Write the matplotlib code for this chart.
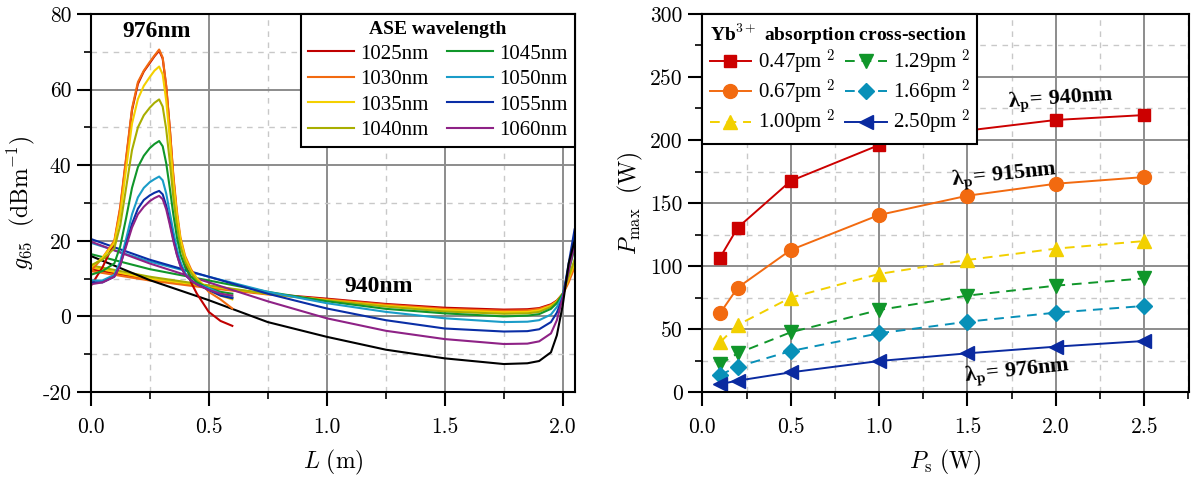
import matplotlib
matplotlib.use("Agg")
import matplotlib.pyplot as plt
from matplotlib.ticker import MultipleLocator, FuncFormatter

plt.rcParams['font.family'] = ['Liberation Serif', 'DejaVu Serif']
plt.rcParams['mathtext.fontset'] = 'cm'
plt.rcParams['axes.unicode_minus'] = False

# ---- left panel: gain along fibre ----
L976 = [0.0, 0.05, 0.10, 0.125, 0.15, 0.175, 0.20, 0.225, 0.25, 0.27, 0.29, 0.305,
        0.32, 0.335, 0.35, 0.365, 0.38, 0.40, 0.425, 0.45, 0.50, 0.55, 0.60]
g976 = {
    '1025nm': [8, 13, 19.5, 28.5, 41.5, 54.5, 61.5, 64.8, 67, 68.8, 70.3, 68.2,
               60.8, 49.8, 37, 27, 20, 14.5, 9, 6, 1.2, -1.2, -2.5],
    '1030nm': [12, 15.5, 20, 29, 42, 55, 62, 65, 67.3, 69, 70.6, 68.5,
               61, 50, 37.5, 28, 21, 16, 12.5, 10, 6.5, 4.5, 2.1],
    '1035nm': [13, 15.5, 19.5, 27, 39, 51, 57.5, 61, 63.3, 65, 66.1, 64,
               57, 47, 35.5, 27, 20.5, 15.5, 12, 10, 7, 5.5, 4.5],
    '1040nm': [13.5, 15, 18, 24, 34, 44, 50, 53.2, 55.2, 56.5, 57.4, 55.5,
               49.5, 41, 31.5, 24, 18.5, 14.5, 11.5, 9.5, 7, 6, 5],
    '1045nm': [11, 12, 14, 18.5, 26, 34, 39.5, 42.5, 44.5, 45.6, 46.4, 45,
               40.5, 34, 27, 21, 16.5, 13, 10.5, 9, 7.5, 6.5, 6],
    '1050nm': [9.5, 9.5, 11, 14.5, 20.5, 27, 31.5, 34, 35.5, 36.3, 37, 36,
               32.5, 27.5, 22.5, 18, 14.5, 11.5, 9.5, 8.5, 7.5, 6, 5],
    '1055nm': [9, 9, 10.5, 13.5, 19, 24.5, 28.5, 30.8, 32, 32.7, 33.2, 32.3,
               29.3, 25, 20.5, 16.5, 13.5, 11, 9.5, 8.5, 7, 5.5, 4.8],
    '1060nm': [8.5, 9, 10.5, 13.5, 18.5, 23.5, 27, 29, 30.5, 31.3, 31.9, 31,
               28.3, 24.3, 20, 16.3, 13.3, 11, 9.5, 8.5, 7, 6, 5.5],
}
L940 = [0.0, 0.25, 0.5, 0.75, 1.0, 1.25, 1.5, 1.75, 1.85, 1.9, 1.95, 1.975, 2.0, 2.025, 2.05]
g940 = {
    '1025nm': [12.5, 9.8, 7.7, 6.0, 4.7, 3.3, 2.3, 1.8, 1.9, 2.2, 3.2, 4.2, 6.0, 9.5, 13.5],
    '1030nm': [12, 9.5, 7.5, 5.8, 4.5, 3.1, 2.0, 1.5, 1.6, 2.0, 3.0, 4.0, 5.8, 9.0, 13],
    '1035nm': [13, 10, 8, 6.0, 4.3, 2.8, 1.7, 1.1, 1.2, 1.6, 2.8, 4.0, 6.0, 10, 14],
    '1040nm': [13.5, 10.5, 8.2, 6.0, 4.2, 2.6, 1.3, 0.7, 0.8, 1.2, 2.5, 3.8, 6.0, 10.5, 15],
    '1045nm': [16.5, 12.5, 9.5, 6.5, 4.0, 2.0, 0.8, 0.0, 0.2, 0.6, 2.0, 3.5, 6.0, 12, 18],
    '1050nm': [19.5, 14.5, 10.5, 6.5, 3.5, 1.2, -0.5, -1.5, -1.4, -1.0, 0.5, 2.5, 5.5, 13, 21],
    '1055nm': [20.5, 15, 10.5, 6.0, 2.1, -1.0, -3.2, -4.0, -3.9, -3.4, -1.5, 1.0, 5.0, 14, 23],
    '1060nm': [19.8, 14, 9.0, 4.0, -0.5, -3.8, -6.0, -7.3, -7.2, -6.6, -4.5, -1.0, 5.0, 12, 19],
    'black': [16, 9.6, 4.3, -1.5, -5.4, -8.8, -11.1, -12.6, -12.4, -11.8, -9.5, -5.0, 3.0, 14, 20],
}
ase_colors = {'1025nm': '#c00000', '1030nm': '#f26a10', '1035nm': '#f4d000', '1040nm': '#a8ae00',
              '1045nm': '#10962a', '1050nm': '#1a9cc8', '1055nm': '#0a2ea6', '1060nm': '#8e2286',
              'black': '#000000'}

# ---- right panel: max power vs seed ----
Ps = [0.1, 0.2, 0.5, 1.0, 1.5, 2.0, 2.5]
cross_labels = ['0.47pm$^{\\ 2}$', '0.67pm$^{\\ 2}$', '1.00pm$^{\\ 2}$',
                '1.29pm$^{\\ 2}$', '1.66pm$^{\\ 2}$', '2.50pm$^{\\ 2}$']
P047 = [106.6, 130.4, 167.5, 196, 207.5, 215.9, 219.8]
P067 = [62.4, 82.8, 112.7, 140.5, 155.8, 165.3, 170.6]
P100 = [39.4, 53.2, 74.9, 93.7, 104.8, 113.8, 119.8]
P129 = [22, 30.7, 47.4, 65.1, 76.5, 84.4, 90.2]
P166 = [13.5, 20.1, 32.5, 46.6, 55.8, 63, 68.3]
P250 = [6.3, 9, 15.6, 24.6, 30.7, 36, 40.5]
pmax = [P047, P067, P100, P129, P166, P250]
p_colors = ['#cc0000', '#f26a10', '#f2d000', '#10962a', '#0890b8', '#0a2aa0']
p_markers = ['s', 'o', '^', 'v', 'D', '<']
p_sizes = [9, 10, 10, 10, 8.5, 10]
p_styles = ['-', '-', '--', '--', '--', '-']

fig = plt.figure(figsize=(11.95, 4.86), dpi=100)
ax1 = fig.add_axes([0.0759, 0.1934, 0.4053, 0.7778])
ax2 = fig.add_axes([0.5877, 0.1934, 0.4073, 0.7778])


def style_axes(ax):
    for s in ax.spines.values():
        s.set_linewidth(1.5)
        s.set_zorder(5)
    ax.grid(which='major', color='#8c8c8c', lw=1.4, ls='-')
    ax.grid(which='minor', color='#c8c8c8', lw=1.0, ls=(0, (4, 4)))
    ax.set_axisbelow(True)
    ax.tick_params(which='major', direction='out', length=10, width=1.5,
                   labelsize=15.5, labelfontfamily='cmr10')
    ax.tick_params(axis='x', which='major', pad=8)
    ax.tick_params(axis='y', which='major', pad=4)
    ax.tick_params(which='minor', direction='out', length=5, width=1.2)
    ax.xaxis.set_major_formatter(FuncFormatter(lambda v, p: '%.1f' % v))
    ax.yaxis.set_major_formatter(FuncFormatter(lambda v, p: '%d' % v))


def lam_text(ax, x, y, s, rot):
    ax.text(x, y, 'λ$_\\mathbf{p}$= ' + s, fontsize=16, fontweight='bold',
            ha='center', va='center', rotation=rot)


# left
for name, vals in g940.items():
    ax1.plot(L940, vals, color=ase_colors[name], lw=1.5)
for name, vals in g976.items():
    ax1.plot(L976, vals, color=ase_colors[name], lw=1.5, label=name)
ax1.set_xlim(0, 2.052)
ax1.set_ylim(-20, 80)
ax1.xaxis.set_major_locator(MultipleLocator(0.5))
ax1.xaxis.set_minor_locator(MultipleLocator(0.25))
ax1.yaxis.set_major_locator(MultipleLocator(20))
ax1.yaxis.set_minor_locator(MultipleLocator(10))
style_axes(ax1)
ax1.set_xlabel(r'$L\ \mathrm{(m)}$', fontsize=17, labelpad=8)
ax1.set_ylabel(r'$g_{65}\ \ \mathrm{(dBm^{-1})}$', fontsize=17)
ax1.yaxis.set_label_coords(-0.11, 0.5)
ax1.text(0.28, 75.5, '976nm', fontsize=17, fontweight='bold', ha='center', va='center')
ax1.text(1.22, 7.8, '940nm', fontsize=17, fontweight='bold', ha='center', va='center')
leg1 = ax1.legend(ncol=2, loc='upper right', borderaxespad=0, fontsize=15,
                  title='ASE wavelength', title_fontproperties={'weight': 'bold', 'size': 14},
                  handlelength=2.2, handletextpad=0.3, columnspacing=0.9, labelspacing=0.28,
                  borderpad=0.35, fancybox=False, framealpha=1, edgecolor='black')
leg1.get_frame().set_linewidth(1.5)
leg1.set_zorder(6)

# right
for vals, lab, c, m, ms, ls in zip(pmax, cross_labels, p_colors, p_markers, p_sizes, p_styles):
    ax2.plot(Ps, vals, color=c, marker=m, markersize=ms, ls=ls, lw=1.4, label=lab,
             dashes=(5, 3.5) if ls == '--' else (None, None), zorder=3)
ax2.set_xlim(0, 2.753)
ax2.set_ylim(0, 300)
ax2.xaxis.set_major_locator(MultipleLocator(0.5))
ax2.xaxis.set_minor_locator(MultipleLocator(0.25))
ax2.yaxis.set_major_locator(MultipleLocator(50))
ax2.yaxis.set_minor_locator(MultipleLocator(25))
style_axes(ax2)
ax2.set_xlabel(r'$P_\mathrm{s}\ \mathrm{(W)}$', fontsize=17, labelpad=8)
ax2.set_ylabel(r'$P_\mathrm{max}\ \ \mathrm{(W)}$', fontsize=17)
ax2.yaxis.set_label_coords(-0.118, 0.5)
lam_text(ax2, 2.03, 232, '940nm', 4)
lam_text(ax2, 1.71, 172, '915nm', 6)
lam_text(ax2, 1.78, 16, '976nm', 6)
leg2 = ax2.legend(ncol=2, loc='upper left', borderaxespad=0, fontsize=15,
                  title='Yb$^{\\mathbf{3+}}$ absorption cross-section',
                  title_fontproperties={'weight': 'bold', 'size': 14},
                  handlelength=2.0, handletextpad=0.3, columnspacing=0.5, labelspacing=0.05,
                  borderpad=0.35, fancybox=False, framealpha=1, edgecolor='black')
leg2._legend_box.align = 'left'
leg2.get_frame().set_linewidth(1.5)
leg2.set_zorder(6)

fig.savefig('out.png', dpi=100)
